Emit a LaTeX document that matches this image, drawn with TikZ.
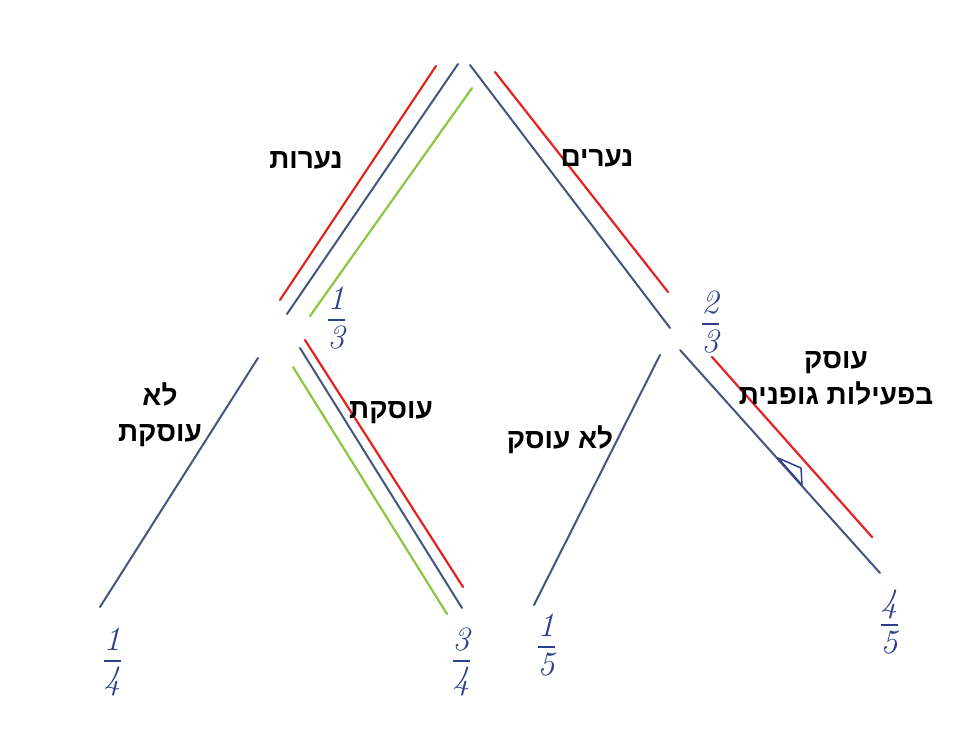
\documentclass[tikz,border=0pt]{standalone}
\usepackage{amsmath}
\usepackage{fontspec}
\newfontfamily\hebfont[Script=Hebrew]{Liberation Sans}
\TeXXeTstate=1
\definecolor{lineblue}{HTML}{45557F}
\definecolor{linered}{HTML}{E52222}
\definecolor{linegreen}{HTML}{8DC63F}
\definecolor{inkblue}{HTML}{2E3F8F}
\tikzset{
  bl/.style={draw=lineblue,line width=2pt,line cap=round},
  rd/.style={draw=linered,line width=2.2pt,line cap=round},
  gr/.style={draw=linegreen,line width=2.2pt,line cap=round},
  lab/.style={font=\hebfont\bfseries\fontsize{28}{36}\selectfont,text=black,inner sep=0pt,align=center},
  frc/.style={text=inkblue,inner sep=0pt,font=\fontsize{34}{36}\selectfont}
}
\newcommand{\hfr}[2]{$\genfrac{}{}{1.6pt}{0}{\mathit{#1}}{\mathit{#2}}$}
\begin{document}
\begin{tikzpicture}[x=1pt,y=-1pt]
\fill[white] (0,0) rectangle (972,747);
\useasboundingbox (0,0) rectangle (972,747);
% endpoints
\coordinate (tl) at (458,64);   \coordinate (ll) at (287,314);
\coordinate (tr) at (470,65);   \coordinate (rr) at (670,328);
\coordinate (rtl) at (436,66);  \coordinate (rll) at (280,300);
\coordinate (gtl) at (472,88);  \coordinate (gll) at (310,316);
\coordinate (rtr) at (495,72);  \coordinate (rrr) at (668,292);
% left child
\coordinate (la) at (258,358);  \coordinate (lab1) at (100,607);
\coordinate (lb) at (300,348);  \coordinate (lbb) at (462,608);
\coordinate (rla) at (305,340); \coordinate (rlb) at (463,587);
\coordinate (gla) at (293,367); \coordinate (glb) at (447,614);
% right child
\coordinate (ra) at (660,355);  \coordinate (rab) at (534,605);
\coordinate (rb) at (680,350);  \coordinate (rbb) at (880,573);
\coordinate (rra) at (712,357); \coordinate (rrb) at (872,537);
% top level
\draw[rd] (rtl) -- (rll);
\draw[bl] (tl) -- (ll);
\draw[gr] (gtl) -- (gll);
\draw[bl] (tr) -- (rr);
\draw[rd] (rtr) -- (rrr);
% left subtree
\draw[bl] (la) -- (lab1);
\draw[rd] (rla) -- (rlb);
\draw[bl] (lb) -- (lbb);
\draw[gr] (gla) -- (glb);
% right subtree
\draw[bl] (ra) -- (rab);
\draw[bl] (rb) -- (rbb);
\draw[rd] (rra) -- (rrb);
\coordinate (t1) at (778,458); \coordinate (t2) at (801,468); \coordinate (t3) at (802,485);
\draw[draw=inkblue,line width=1.5pt,line join=round] (t1) -- (t2) -- (t3) -- cycle;
% labels
\node[lab] (n1) at (306,160) {\beginR נערות\endR};
\node[lab] (n2) at (597,158) {\beginR נערים\endR};
\node[lab] (n3) at (160,415) {\beginR לא\endR\\\beginR עוסקת\endR};
\node[lab] (n4) at (391,413) {\beginR עוסקת\endR};
\node[lab] (n5) at (560,440) {\beginR לא עוסק\endR};
\node[lab] (n6) at (836,378) {\beginR עוסק\endR\\\beginR בפעילות גופנית\endR};
% fractions
\node[frc] (f1) at (336,318) {\hfr{1}{3}};
\node[frc] (f2) at (710,322) {\hfr{2}{3}};
\node[frc] (f3) at (112,662) {\hfr{1}{4}};
\node[frc] (f4) at (461,662) {\hfr{3}{4}};
\node[frc] (f5) at (546,645) {\hfr{1}{5}};
\node[frc] (f6) at (889,622) {\hfr{4}{5}};
\end{tikzpicture}
\end{document}
